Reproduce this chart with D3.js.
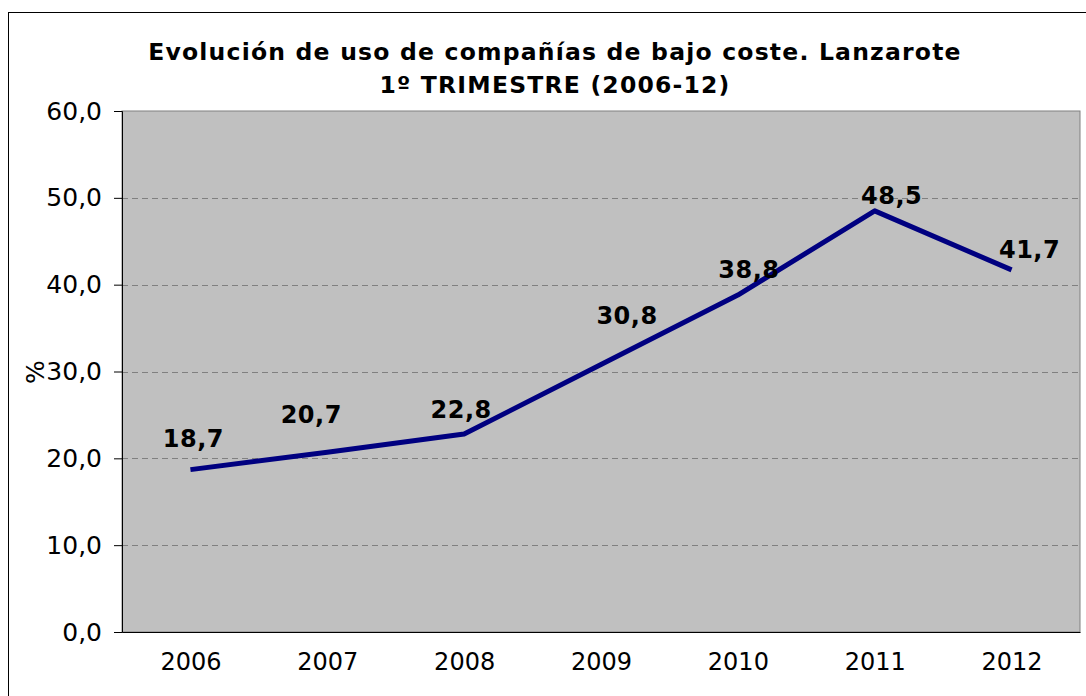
<!DOCTYPE html>
<html><head><meta charset="utf-8">
<script src="https://cdn.jsdelivr.net/npm/d3@7"></script>
<style>body{margin:0;background:#fff}svg{display:block}</style>
</head><body>
<svg id="c" width="1086" height="696"></svg>
<script>
const years = ["2006","2007","2008","2009","2010","2011","2012"];
const values = [18.7, 20.7, 22.8, 30.8, 38.8, 48.5, 41.7];
const yTicks = [0,10,20,30,40,50,60];
const titleLines = ["Evolución de uso de compañías de bajo coste. Lanzarote", "1º TRIMESTRE (2006-12)"];
const yLabel = "%";
// label offsets (layout) relative to each point
const labelDx = [3, -16, -3, 26, 11, 17, 18];
const labelDy = [-23, -29, -16, -41, -17, -7, -12];

const svg = d3.select("#c");
const font = "'DejaVu Sans', Verdana, sans-serif";
const m = {l:122, r:1080, t:111, b:632};

svg.append("rect").attr("x",8.5).attr("y",12.5).attr("width",1090).attr("height",700)
  .attr("fill","#fff").attr("stroke","#000").attr("stroke-width",1);

const x = d3.scalePoint().domain(years).range([m.l, m.r]).padding(0.5);
const y = d3.scaleLinear().domain([0,60]).range([m.b, m.t]);

svg.append("rect").attr("x",m.l).attr("y",m.t).attr("width",m.r-m.l).attr("height",m.b-m.t)
  .attr("fill","#c0c0c0").attr("stroke","#808080").attr("stroke-width",1);

svg.append("g").selectAll("line").data(yTicks.filter(d=>d>0 && d<60)).join("line")
  .attr("x1",m.l).attr("x2",m.r).attr("y1",d=>Math.round(y(d))+0.5).attr("y2",d=>Math.round(y(d))+0.5)
  .attr("stroke","#808080").attr("stroke-dasharray","6,4").attr("stroke-width",1);

const yAxis = svg.append("g").attr("transform",`translate(${m.l},0)`)
  .call(d3.axisLeft(y).tickValues(yTicks).tickSize(8).tickPadding(12).tickFormat(d=>d3.format(".1f")(d).replace(".",",")));
yAxis.select(".domain").attr("stroke","#000");
yAxis.selectAll(".tick line").attr("stroke","#000");
yAxis.selectAll("text").attr("font-family",font).attr("font-size",25).attr("fill","#000");

const xAxis = svg.append("g").attr("transform",`translate(0,${m.b})`)
  .call(d3.axisBottom(x).tickSize(0).tickPadding(21).tickSizeOuter(0));
xAxis.select(".domain").attr("stroke","#000");
xAxis.selectAll("text").attr("font-family",font).attr("font-size",24).attr("fill","#000");

const line = d3.line().x((d,i)=>x(years[i])).y(d=>y(d));
svg.append("path").datum(values).attr("d",line).attr("fill","none")
  .attr("stroke","#000080").attr("stroke-width",5).attr("stroke-linejoin","round");

svg.append("g").selectAll("text").data(values).join("text")
  .attr("x",(d,i)=>x(years[i])+labelDx[i]).attr("y",(d,i)=>y(d)+labelDy[i])
  .attr("text-anchor","middle").attr("font-family",font).attr("font-size",24).attr("font-weight","bold")
  .attr("letter-spacing",0.5)
  .text(d=>d3.format(".1f")(d).replace(".",","));

svg.append("g").selectAll("text").data(titleLines).join("text")
  .attr("x",555).attr("y",(d,i)=>60+i*33).attr("text-anchor","middle")
  .attr("font-family",font).attr("font-size",23.5).attr("font-weight","bold")
  .attr("letter-spacing",1.2).text(d=>d);

svg.append("text").attr("transform","translate(44,372) rotate(-90)").attr("text-anchor","middle")
  .attr("font-family",font).attr("font-size",25).text(yLabel);
</script>
</body></html>
